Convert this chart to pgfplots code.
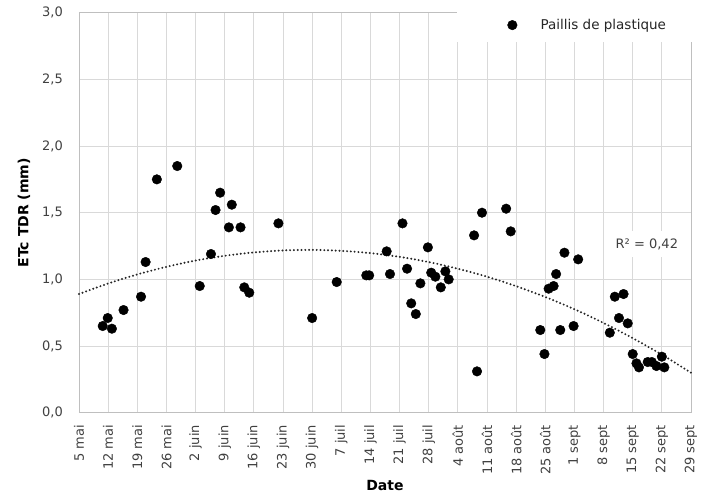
\documentclass[border=0pt]{standalone}
\usepackage{pgfplots}
\usepackage{pgfplotstable}
\pgfplotsset{compat=1.18}
\usepackage{fontspec}
\setmainfont{DejaVu Sans}

\definecolor{ticktext}{HTML}{404040}
\definecolor{gridgray}{HTML}{D9D9D9}
\definecolor{framegray}{HTML}{BFBFBF}

% Daily crop ET (days counted from 5 May)
\pgfplotstableread{
day etc
5.7 0.65
6.9 0.71
7.9 0.63
10.7 0.77
14.9 0.87
16.0 1.13
18.7 1.75
23.6 1.85
29.0 0.95
31.7 1.19
32.8 1.52
33.9 1.65
36.0 1.39
36.7 1.56
38.8 1.39
39.7 0.94
40.9 0.90
47.9 1.42
56.0 0.71
61.9 0.98
69.0 1.03
69.7 1.03
73.9 1.21
74.7 1.04
77.7 1.42
78.8 1.08
79.8 0.82
80.9 0.74
82.0 0.97
83.8 1.24
84.6 1.05
85.6 1.02
86.9 0.94
88.0 1.06
88.8 1.00
94.9 1.33
95.6 0.31
96.8 1.50
102.6 1.53
103.7 1.36
110.8 0.62
111.8 0.44
112.8 0.93
114.0 0.95
114.6 1.04
115.6 0.62
116.6 1.20
118.8 0.65
119.9 1.15
127.5 0.60
128.7 0.87
129.7 0.71
130.8 0.89
131.8 0.67
133.0 0.44
133.9 0.37
134.5 0.34
136.6 0.38
137.6 0.38
138.7 0.35
140.0 0.42
140.6 0.34
}\etcdata

% Second-order trend curve, weekly values
\pgfplotstableread{
day trend
0 0.890
7 0.969
14 1.037
21 1.094
28 1.141
35 1.177
42 1.202
49 1.217
56 1.221
63 1.214
70 1.197
77 1.169
84 1.130
91 1.080
98 1.020
105 0.949
112 0.868
119 0.776
126 0.673
133 0.559
140 0.435
147 0.300
}\trenddata

\begin{document}
\begin{tikzpicture}
\useasboundingbox (-79pt,-82.3pt) rectangle (628pt,412.7pt);
\begin{axis}[
  scale only axis,
  width=612pt, height=400pt,
  xmin=0, xmax=147, ymin=0, ymax=3,
  clip=false,
  xtick={0,7,14,21,28,35,42,49,56,63,70,77,84,91,98,105,112,119,126,133,140,147},
  xticklabels={5 mai,12 mai,19 mai,26 mai,2 juin,9 juin,16 juin,23 juin,30 juin,7 juil,14 juil,21 juil,28 juil,4 août,11 août,18 août,25 août,1 sept,8 sept,15 sept,22 sept,29 sept},
  ytick={0,0.5,1,1.5,2,2.5,3},
  /pgf/number format/assume math mode=true,
  /pgf/number format/fixed,
  /pgf/number format/fixed zerofill,
  /pgf/number format/precision=1,
  /pgf/number format/use comma,
  major tick length=0pt,
  grid=major,
  grid style={draw=gridgray, line width=0.8pt},
  axis line style={draw=framegray, line width=0.8pt},
  tick label style={font=\fontsize{13}{13}\selectfont, text=ticktext, inner sep=0pt},
  xticklabel style={rotate=90, anchor=east},
  yticklabel style={anchor=east},
  xticklabel shift=12pt,
  yticklabel shift=16pt,
  xlabel={Date},
  ylabel={ETc TDR (mm)},
  xlabel style={font=\bfseries\fontsize{14}{14}\selectfont, at={(axis description cs:0.5,-0.181)}, anchor=center},
  ylabel style={font=\bfseries\fontsize{14}{14}\selectfont, at={(axis description cs:-0.0899,0.5)}, anchor=center},
  legend style={draw=none, fill=none, at={(axis description cs:0.6993,0.969)}, anchor=west,
    inner sep=0pt, font=\fontsize{13.5}{13.5}\selectfont, text=black!85},
  legend cell align=left,
  legend image code/.code={\draw[#1] plot coordinates {(5pt,0pt)}; \path (0pt,0pt) (31pt,0pt);},
]
% white band behind the legend
\fill[white] (rel axis cs:0.618,0.927) rectangle (rel axis cs:1.03,1.04);

\addplot[forget plot, no marks, smooth, color=black!85, line width=2.2pt, line cap=round,
  dash pattern=on 0pt off 3.8pt] table[x=day, y=trend] {\trenddata};

\addplot[only marks, mark=*, mark size=4.8pt, color=black] table[x=day, y=etc] {\etcdata};
\addlegendentry{Paillis de plastique}

\node[fill=white, inner xsep=7pt, inner ysep=7pt, text=ticktext, font=\fontsize{13}{13}\selectfont]
  at (axis cs:136.4,1.265) {R² = 0,42};
\end{axis}
\end{tikzpicture}
\end{document}
